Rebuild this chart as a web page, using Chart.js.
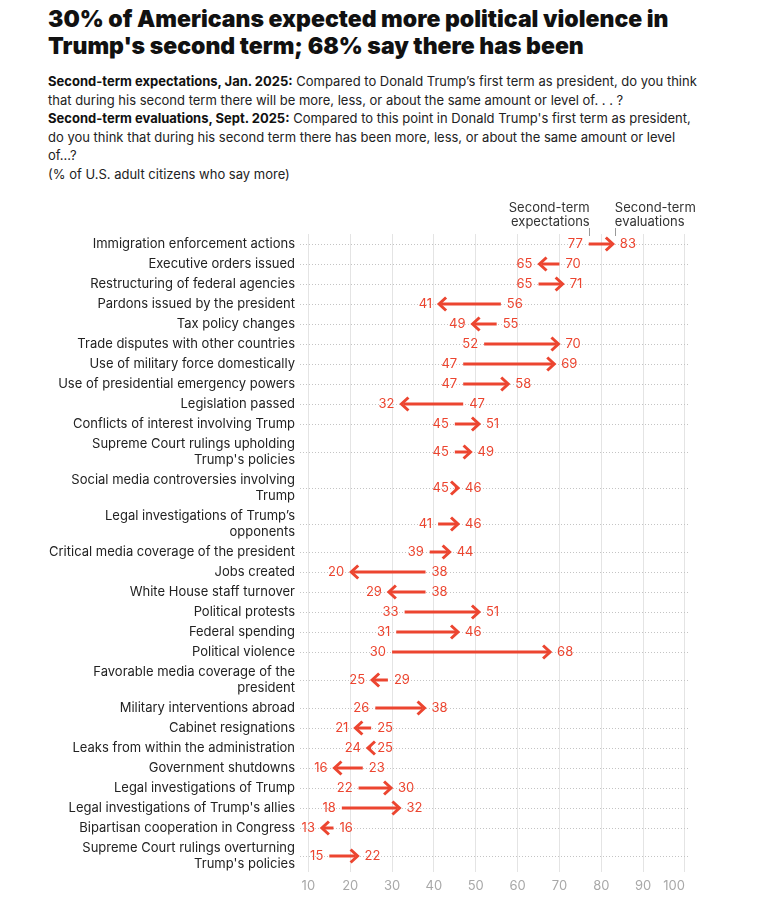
<!DOCTYPE html>
<html><head><meta charset="utf-8">
<script src="https://cdn.jsdelivr.net/npm/chart.js@4.4.1/dist/chart.umd.min.js"></script>
<style>
html,body{margin:0;padding:0;background:#fff;width:773px;height:909px;overflow:hidden;font-family:Inter, sans-serif;}
#title{position:absolute;left:48px;top:6px;font-weight:900;font-size:23px;line-height:27px;color:#111;letter-spacing:0px;white-space:nowrap;}
#sub{position:absolute;left:48px;top:72px;font-size:13px;line-height:18.6px;color:#222;white-space:nowrap;}
#sub b{font-weight:700;color:#111;}
#wrap{position:absolute;left:0;top:195px;width:773px;height:714px;}
</style></head>
<body>
<div id="title">30% of Americans expected more political violence in<br>Trump's second term; 68% say there has been</div>
<div id="sub"><b>Second-term expectations, Jan. 2025:</b> Compared to Donald Trump’s first term as president, do you think<br>that during his second term there will be more, less, or about the same amount or level of. . . ?<br><b>Second-term evaluations, Sept. 2025:</b> Compared to this point in Donald Trump's first term as president,<br>do you think that during his second term there has been more, less, or about the same amount or level<br>of...?<br>(% of U.S. adult citizens who say more)</div>
<div id="wrap"><canvas id="c"></canvas></div>
<script>
const categories = [
  ["Immigration enforcement actions"],
  ["Executive orders issued"],
  ["Restructuring of federal agencies"],
  ["Pardons issued by the president"],
  ["Tax policy changes"],
  ["Trade disputes with other countries"],
  ["Use of military force domestically"],
  ["Use of presidential emergency powers"],
  ["Legislation passed"],
  ["Conflicts of interest involving Trump"],
  ["Supreme Court rulings upholding", "Trump's policies"],
  ["Social media controversies involving", "Trump"],
  ["Legal investigations of Trump’s", "opponents"],
  ["Critical media coverage of the president"],
  ["Jobs created"],
  ["White House staff turnover"],
  ["Political protests"],
  ["Federal spending"],
  ["Political violence"],
  ["Favorable media coverage of the", "president"],
  ["Military interventions abroad"],
  ["Cabinet resignations"],
  ["Leaks from within the administration"],
  ["Government shutdowns"],
  ["Legal investigations of Trump"],
  ["Legal investigations of Trump's allies"],
  ["Bipartisan cooperation in Congress"],
  ["Supreme Court rulings overturning", "Trump's policies"]
];
const expectations = [77,70,65,56,55,52,47,47,47,45,45,45,41,39,38,38,33,31,30,29,26,25,25,23,22,18,16,15];
const evaluations  = [83,65,71,41,49,70,69,58,32,51,49,46,46,44,20,29,51,46,68,25,38,21,24,16,30,32,13,22];
const xTicks = [10,20,30,40,50,60,70,80,90,100];
const seriesNames = [["Second-term","expectations"],["Second-term","evaluations"]];

const RED = '#ec4530';
const FONT = 'Inter, sans-serif';
Chart.defaults.font.family = FONT;

// layout: row heights depend on how many lines a label has
const rowH = categories.map(l => l.length > 1 ? 36 : 20);
const rowPos = [];
let acc = 0;
rowH.forEach((h, i) => { if (i > 0) acc += (rowH[i-1] + h) / 2; rowPos.push(acc); });

const arrowPlugin = {
  id: 'arrows',
  afterDatasetsDraw(chart) {
    const ctx = chart.ctx;
    const me = chart.getDatasetMeta(0).data, mv = chart.getDatasetMeta(1).data;
    ctx.save();
    ctx.strokeStyle = RED; ctx.fillStyle = RED; ctx.lineWidth = 3;
    ctx.font = '13px ' + FONT; ctx.textBaseline = 'middle';
    me.forEach((pe, i) => {
      const pv = mv[i];
      const y = pe.y, x0 = pe.x, x1 = pv.x;
      const dir = Math.sign(x1 - x0) || 1;
      const tip = x1 - dir * 1;
      ctx.lineCap = 'butt';
      ctx.beginPath(); ctx.moveTo(x0, y); ctx.lineTo(tip - dir * 2, y); ctx.stroke();
      ctx.lineJoin = 'miter';
      ctx.beginPath(); ctx.moveTo(tip - dir * 7, y - 6.5); ctx.lineTo(tip, y); ctx.lineTo(tip - dir * 7, y + 6.5); ctx.stroke();
      ctx.textAlign = dir > 0 ? 'right' : 'left';
      ctx.fillText(String(expectations[i]), x0 - dir * 6, y + 0.5);
      ctx.textAlign = dir > 0 ? 'left' : 'right';
      ctx.fillText(String(evaluations[i]), x1 + dir * 6, y + 0.5);
    });
    // series header labels tied to first row
    ctx.fillStyle = '#333'; ctx.strokeStyle = '#999'; ctx.lineWidth = 1;
    const xe = me[0].x + 1, xv = mv[0].x + 1;
    ctx.textAlign = 'right';
    ctx.fillText(seriesNames[0][0], xe, 13);
    ctx.fillText(seriesNames[0][1], xe, 27);
    ctx.textAlign = 'left';
    ctx.fillText(seriesNames[1][0], xv, 13);
    ctx.fillText(seriesNames[1][1], xv, 27);
    ctx.beginPath();
    ctx.moveTo(Math.round(xe) - 0.5, 33); ctx.lineTo(Math.round(xe) - 0.5, 41);
    ctx.moveTo(Math.round(xv) + 0.5, 33); ctx.lineTo(Math.round(xv) + 0.5, 41);
    ctx.stroke();
    // x tick labels
    const xs = chart.scales.x;
    ctx.fillStyle = '#a8a8a8';
    xTicks.forEach((t, i) => {
      ctx.textAlign = i === xTicks.length - 1 ? 'right' : 'center';
      ctx.fillText(String(t), xs.getPixelForValue(t), chart.chartArea.bottom + 14);
    });
    ctx.restore();
  }
};

new Chart(document.getElementById('c'), {
  type: 'scatter',
  data: {
    datasets: [
      { label: 'Second-term expectations', data: expectations.map((v, i) => ({x: v, y: rowPos[i]})), pointRadius: 0, showLine: false },
      { label: 'Second-term evaluations', data: evaluations.map((v, i) => ({x: v, y: rowPos[i]})), pointRadius: 0, showLine: false }
    ]
  },
  options: {
    responsive: true,
    maintainAspectRatio: false,
    animation: false,
    events: [],
    layout: { padding: { left: 0, right: 83, top: 39, bottom: 0 } },
    plugins: { legend: { display: false }, tooltip: { enabled: false } },
    scales: {
      x: {
        type: 'linear', min: 8, max: 101.2,
        afterBuildTicks: s => { s.ticks = xTicks.map(v => ({value: v})); },
        afterFit: s => { s.height = 37; },
        ticks: { display: false },
        grid: { color: '#e4e4e4', lineWidth: 1, drawTicks: false },
        border: { display: false }
      },
      y: {
        type: 'linear', reverse: true, min: -10, max: rowPos[rowPos.length - 1] + 16,
        afterBuildTicks: s => { s.ticks = rowPos.map(v => ({value: v})); },
        afterFit: s => { s.width = 300; },
        ticks: {
          autoSkip: false, padding: 5, color: '#222',
          font: { size: 13, lineHeight: 16/13 },
          callback: (val, idx) => categories[idx]
        },
        grid: { color: '#c4c4c4', lineWidth: 1, drawTicks: false },
        border: { display: false, dash: [1, 2] }
      }
    }
  },
  plugins: [arrowPlugin]
});
</script>
</body></html>
